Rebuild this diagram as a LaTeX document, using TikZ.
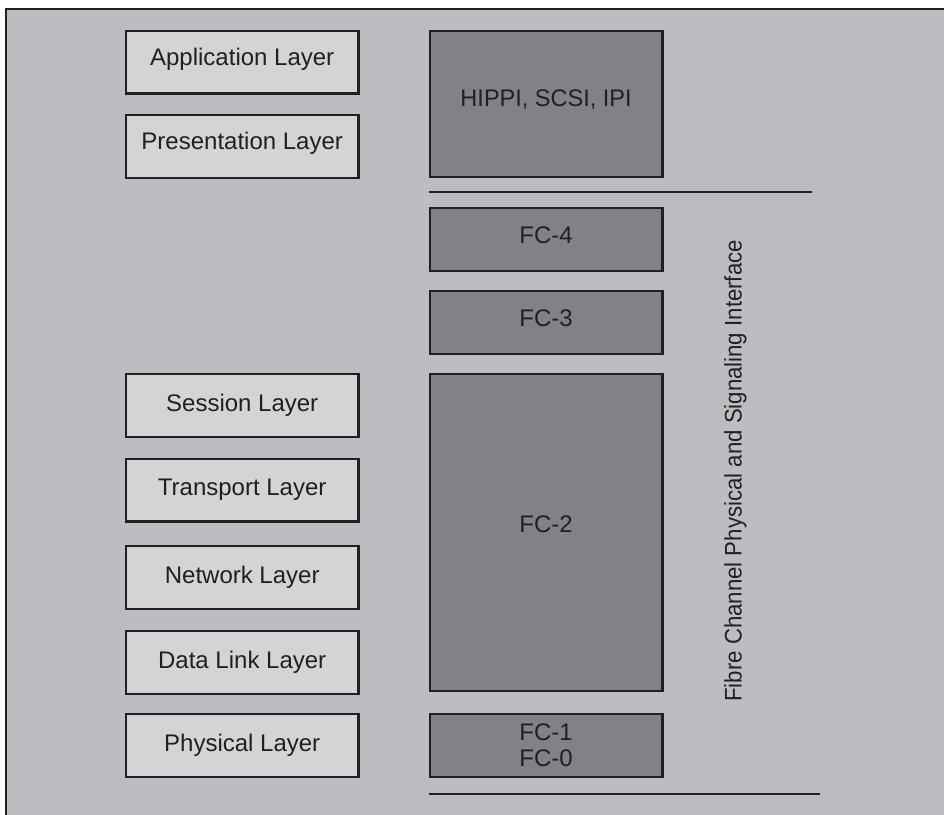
\documentclass[tikz,border=0pt]{standalone}
\usepackage{fontspec}
\setmainfont{Liberation Sans}
\definecolor{panel}{HTML}{BCBDC0}
\definecolor{osibox}{HTML}{D3D4D6}
\definecolor{fcbox}{HTML}{818286}
\definecolor{ink}{HTML}{231F20}
\newcommand{\hs}[2]{\scalebox{#1}[1]{#2}}
\tikzset{
  layer/.style={draw=ink, line width=2.3pt, inner sep=0pt, text=ink,
    font=\fontsize{24}{26.7}\selectfont, text height=17.3pt, text depth=5pt},
  osi/.style={layer, fill=osibox, minimum width=232.3pt, minimum height=62.7pt},
  fc/.style={layer, fill=fcbox, minimum width=232.9pt},
  divider/.style={draw=ink, line width=2.3pt},
  frame/.style={draw=ink, line width=2.5pt}
}
\begin{document}
\begin{tikzpicture}[x=1pt, y=-1pt]
\useasboundingbox (0,0) rectangle (944,814);
% background panel with top and left rule (runs off the page to the right and bottom)
\begin{scope}
\clip (0,0) rectangle (944,814);
\fill[panel] (6,9) rectangle (960,830);
\coordinate (ftl) at (6,9);
\coordinate (ftr) at (960,9);
\coordinate (fbl) at (6,830);
\draw[frame] (fbl) -- (ftl) -- (ftr);
\end{scope}

% OSI reference model layers
\node[osi, text depth=11.3pt] (app)  at (242.2,62)    {Application Layer};
\node[osi, text depth=11.3pt] (pres) at (242.2,146.5) {Presentation Layer};
\node[osi] (sess) at (242.2,405.5) {Session Layer};
\node[osi, text depth=7pt] (trans) at (242.2,490) {Transport Layer};
\node[osi] (net)  at (242.2,577.5) {Network Layer};
\node[osi] (dll)  at (242.2,662.5) {Data Link Layer};
\node[osi] (phy)  at (242.2,745.5) {Physical Layer};

% Fibre Channel levels
\node[fc, minimum height=146.2pt, text depth=12.7pt] (ulp) at (546.1,103.75) {\hs{0.98}{HIPPI, SCSI, IPI}};
\node[fc, minimum height=63.2pt, text depth=9.3pt] (fc4) at (546.1,239.25) {FC-4};
\node[fc, minimum height=62.7pt, text depth=10.3pt] (fc3) at (546.1,322.5) {FC-3};
\node[fc, minimum height=316.7pt, text depth=17.3pt] (fc2) at (546.1,532.5) {FC-2};
\node[fc, minimum height=63pt, text height=, text depth=, align=center] (fc10) at (546.1,745.35)
  {FC-1\\FC-0};

% boundaries of the Fibre Channel standard
\coordinate (topL) at (428.5,192);
\coordinate (topR) at (812.2,192);
\coordinate (botL) at (428.5,794);
\coordinate (botR) at (819.9,794);
\draw[divider] (topL) -- (topR);
\draw[divider] (botL) -- (botR);

\node[rotate=90, anchor=base, inner sep=0pt, text=ink, font=\fontsize{24}{26.7}\selectfont]
  (fcph) at (741.5,470.8) {\hs{0.925}{Fibre Channel Physical and Signaling Interface}};
\end{tikzpicture}
\end{document}
